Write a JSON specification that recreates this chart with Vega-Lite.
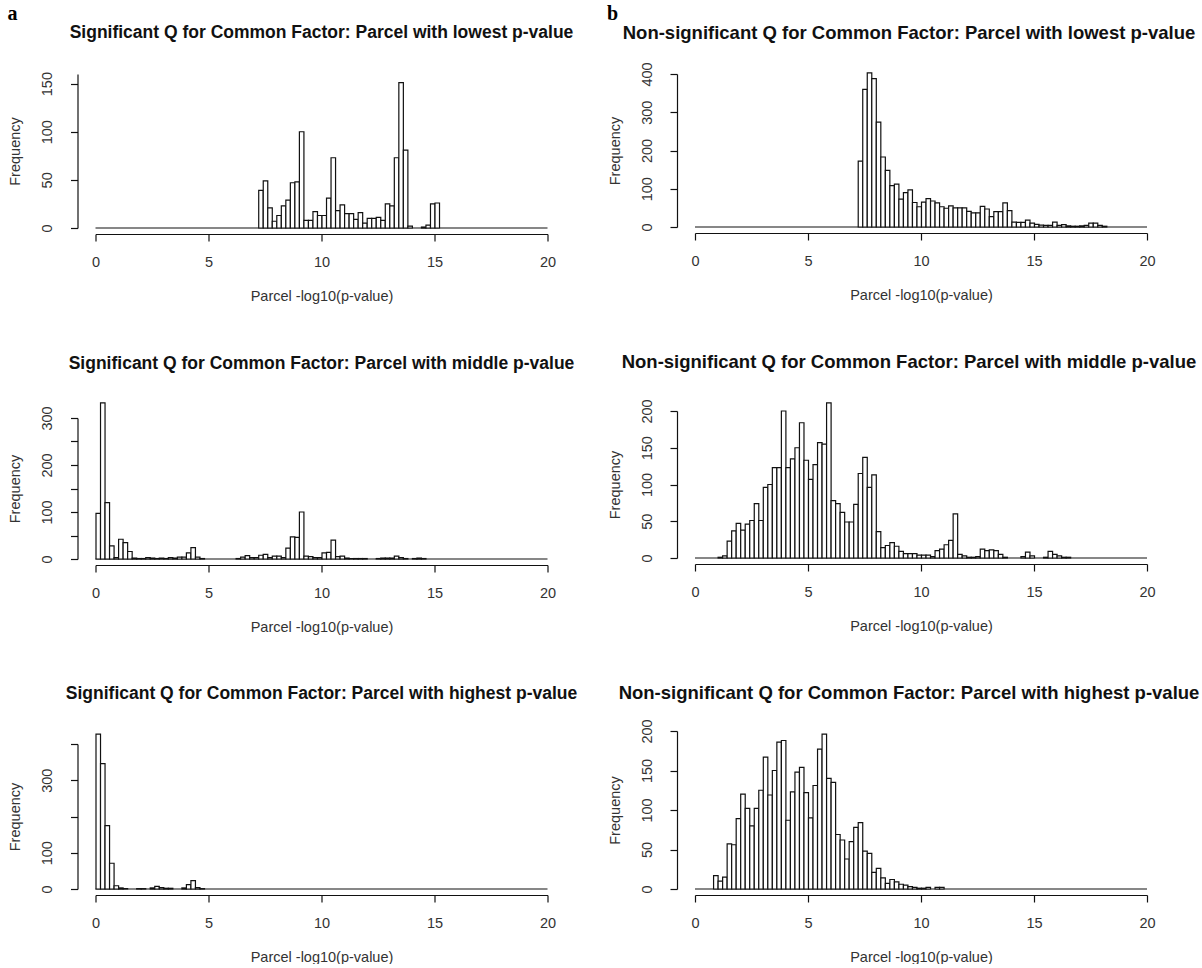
{
"$schema": "https://vega.github.io/schema/vega-lite/v6.json",
"background": "white",
"padding": {"left": 7.5, "top": 4, "right": 0, "bottom": 0},
"datasets": {
"a1": [{"b":7.2,"n":39},{"b":7.4,"n":49},{"b":7.6,"n":21},{"b":7.8,"n":7},{"b":8.0,"n":13},{"b":8.2,"n":23},{"b":8.4,"n":29},{"b":8.6,"n":47},{"b":8.8,"n":48},{"b":9.0,"n":100},{"b":9.2,"n":8},{"b":9.4,"n":8},{"b":9.6,"n":17},{"b":9.8,"n":13},{"b":10.0,"n":13},{"b":10.2,"n":31},{"b":10.4,"n":73},{"b":10.6,"n":18},{"b":10.8,"n":24},{"b":11.0,"n":15},{"b":11.2,"n":15},{"b":11.4,"n":9},{"b":11.6,"n":16},{"b":11.8,"n":5},{"b":12.0,"n":10},{"b":12.2,"n":10},{"b":12.4,"n":11},{"b":12.6,"n":8},{"b":12.8,"n":25},{"b":13.0,"n":23},{"b":13.2,"n":73},{"b":13.4,"n":151},{"b":13.6,"n":81},{"b":13.8,"n":2},{"b":14.4,"n":1},{"b":14.6,"n":3},{"b":14.8,"n":25},{"b":15.0,"n":26}],
"a2": [{"b":0.0,"n":97},{"b":0.2,"n":332},{"b":0.4,"n":120},{"b":0.6,"n":28},{"b":0.8,"n":3},{"b":1.0,"n":42},{"b":1.2,"n":35},{"b":1.4,"n":16},{"b":1.6,"n":2},{"b":1.8,"n":1},{"b":2.0,"n":1},{"b":2.2,"n":3},{"b":2.4,"n":2},{"b":2.6,"n":1},{"b":2.8,"n":2},{"b":3.0,"n":1},{"b":3.2,"n":3},{"b":3.4,"n":2},{"b":3.6,"n":4},{"b":3.8,"n":4},{"b":4.0,"n":13},{"b":4.2,"n":24},{"b":4.4,"n":4},{"b":4.6,"n":1},{"b":6.2,"n":1},{"b":6.4,"n":4},{"b":6.6,"n":7},{"b":6.8,"n":3},{"b":7.0,"n":3},{"b":7.2,"n":8},{"b":7.4,"n":10},{"b":7.6,"n":3},{"b":7.8,"n":6},{"b":8.0,"n":6},{"b":8.2,"n":3},{"b":8.4,"n":23},{"b":8.6,"n":47},{"b":8.8,"n":46},{"b":9.0,"n":100},{"b":9.2,"n":6},{"b":9.4,"n":5},{"b":9.6,"n":3},{"b":9.8,"n":3},{"b":10.0,"n":13},{"b":10.2,"n":14},{"b":10.4,"n":40},{"b":10.6,"n":5},{"b":10.8,"n":6},{"b":11.0,"n":2},{"b":11.2,"n":1},{"b":11.4,"n":1},{"b":11.6,"n":1},{"b":11.8,"n":1},{"b":12.4,"n":1},{"b":12.6,"n":2},{"b":12.8,"n":2},{"b":13.0,"n":2},{"b":13.2,"n":6},{"b":13.4,"n":3},{"b":13.6,"n":1},{"b":14.0,"n":1},{"b":14.2,"n":2},{"b":14.4,"n":1}],
"a3": [{"b":0.0,"n":427},{"b":0.2,"n":346},{"b":0.4,"n":175},{"b":0.6,"n":71},{"b":0.8,"n":9},{"b":1.0,"n":3},{"b":1.2,"n":1},{"b":1.8,"n":1},{"b":2.0,"n":1},{"b":2.4,"n":3},{"b":2.6,"n":7},{"b":2.8,"n":4},{"b":3.0,"n":2},{"b":3.2,"n":2},{"b":3.8,"n":3},{"b":4.0,"n":12},{"b":4.2,"n":23},{"b":4.4,"n":4},{"b":4.6,"n":1}],
"b1": [{"b":7.2,"n":172},{"b":7.4,"n":360},{"b":7.6,"n":403},{"b":7.8,"n":388},{"b":8.0,"n":274},{"b":8.2,"n":183},{"b":8.4,"n":148},{"b":8.6,"n":108},{"b":8.8,"n":112},{"b":9.0,"n":73},{"b":9.2,"n":90},{"b":9.4,"n":97},{"b":9.6,"n":64},{"b":9.8,"n":53},{"b":10.0,"n":65},{"b":10.2,"n":74},{"b":10.4,"n":68},{"b":10.6,"n":63},{"b":10.8,"n":53},{"b":11.0,"n":49},{"b":11.2,"n":55},{"b":11.4,"n":50},{"b":11.6,"n":50},{"b":11.8,"n":50},{"b":12.0,"n":41},{"b":12.2,"n":37},{"b":12.4,"n":37},{"b":12.6,"n":54},{"b":12.8,"n":47},{"b":13.0,"n":27},{"b":13.2,"n":40},{"b":13.4,"n":40},{"b":13.6,"n":63},{"b":13.8,"n":43},{"b":14.0,"n":13},{"b":14.2,"n":12},{"b":14.4,"n":12},{"b":14.6,"n":18},{"b":14.8,"n":10},{"b":15.0,"n":7},{"b":15.2,"n":5},{"b":15.4,"n":4},{"b":15.6,"n":4},{"b":15.8,"n":13},{"b":16.0,"n":4},{"b":16.2,"n":6},{"b":16.4,"n":3},{"b":16.6,"n":2},{"b":16.8,"n":2},{"b":17.0,"n":3},{"b":17.2,"n":4},{"b":17.4,"n":10},{"b":17.6,"n":10},{"b":17.8,"n":4},{"b":18.0,"n":2}],
"b2": [{"b":1.0,"n":1},{"b":1.2,"n":3},{"b":1.4,"n":23},{"b":1.6,"n":37},{"b":1.8,"n":47},{"b":2.0,"n":38},{"b":2.2,"n":46},{"b":2.4,"n":51},{"b":2.6,"n":74},{"b":2.8,"n":51},{"b":3.0,"n":96},{"b":3.2,"n":100},{"b":3.4,"n":123},{"b":3.6,"n":123},{"b":3.8,"n":200},{"b":4.0,"n":123},{"b":4.2,"n":135},{"b":4.4,"n":150},{"b":4.6,"n":184},{"b":4.8,"n":133},{"b":5.0,"n":107},{"b":5.2,"n":127},{"b":5.4,"n":157},{"b":5.6,"n":155},{"b":5.8,"n":211},{"b":6.0,"n":78},{"b":6.2,"n":74},{"b":6.4,"n":62},{"b":6.6,"n":49},{"b":6.8,"n":49},{"b":7.0,"n":73},{"b":7.2,"n":115},{"b":7.4,"n":137},{"b":7.6,"n":96},{"b":7.8,"n":113},{"b":8.0,"n":36},{"b":8.2,"n":14},{"b":8.4,"n":17},{"b":8.6,"n":21},{"b":8.8,"n":16},{"b":9.0,"n":9},{"b":9.2,"n":6},{"b":9.4,"n":6},{"b":9.6,"n":6},{"b":9.8,"n":4},{"b":10.0,"n":4},{"b":10.2,"n":4},{"b":10.4,"n":2},{"b":10.6,"n":10},{"b":10.8,"n":12},{"b":11.0,"n":18},{"b":11.2,"n":24},{"b":11.4,"n":60},{"b":11.6,"n":5},{"b":11.8,"n":3},{"b":12.0,"n":1},{"b":12.2,"n":1},{"b":12.4,"n":2},{"b":12.6,"n":12},{"b":12.8,"n":10},{"b":13.0,"n":11},{"b":13.2,"n":10},{"b":13.4,"n":5},{"b":13.6,"n":1},{"b":14.4,"n":2},{"b":14.6,"n":8},{"b":14.8,"n":3},{"b":15.4,"n":1},{"b":15.6,"n":9},{"b":15.8,"n":5},{"b":16.0,"n":3},{"b":16.2,"n":1},{"b":16.4,"n":1}],
"b3": [{"b":0.8,"n":17},{"b":1.0,"n":10},{"b":1.2,"n":15},{"b":1.4,"n":57},{"b":1.6,"n":56},{"b":1.8,"n":89},{"b":2.0,"n":120},{"b":2.2,"n":102},{"b":2.4,"n":80},{"b":2.6,"n":102},{"b":2.8,"n":125},{"b":3.0,"n":167},{"b":3.2,"n":119},{"b":3.4,"n":150},{"b":3.6,"n":186},{"b":3.8,"n":188},{"b":4.0,"n":87},{"b":4.2,"n":123},{"b":4.4,"n":148},{"b":4.6,"n":154},{"b":4.8,"n":122},{"b":5.0,"n":90},{"b":5.2,"n":131},{"b":5.4,"n":177},{"b":5.6,"n":196},{"b":5.8,"n":140},{"b":6.0,"n":135},{"b":6.2,"n":69},{"b":6.4,"n":62},{"b":6.6,"n":38},{"b":6.8,"n":60},{"b":7.0,"n":78},{"b":7.2,"n":84},{"b":7.4,"n":48},{"b":7.6,"n":45},{"b":7.8,"n":21},{"b":8.0,"n":26},{"b":8.2,"n":14},{"b":8.4,"n":7},{"b":8.6,"n":12},{"b":8.8,"n":9},{"b":9.0,"n":6},{"b":9.2,"n":5},{"b":9.4,"n":3},{"b":9.6,"n":2},{"b":9.8,"n":1},{"b":10.0,"n":1},{"b":10.2,"n":2},{"b":10.6,"n":2},{"b":10.8,"n":2}],
"base": [{"lo":0,"hi":20,"z":0}]
},
"spacing": 29.5,
"hconcat": [
{
"title": {"text": "a", "anchor": "start", "frame": "bounds", "font": "Liberation Serif", "fontSize": 20, "fontWeight": "bold", "color": "#000", "offset": 0},
"spacing": 51,
"vconcat": [
{"width": 452, "height": 154, "title": {"text": "Significant Q for Common Factor: Parcel with lowest p-value", "offset": 30},
 "layer": [
  {"data": {"name": "base"}, "mark": {"type": "rule", "color": "#111", "strokeWidth": 1.2},
   "encoding": {"x": {"field": "lo", "type": "quantitative", "title": "Parcel -log10(p-value)", "scale": {"domain": [0, 20]}, "axis": {"values": [0, 5, 10, 15, 20], "format": "d"}}, "x2": {"field": "hi"},
    "y": {"field": "z", "type": "quantitative", "title": "Frequency", "scale": {"domain": [0, 150]}, "axis": {"values": [0, 50, 100, 150], "format": "d"}}}},
  {"data": {"name": "a1"}, "mark": {"type": "bar", "fill": "white", "stroke": "#111", "strokeWidth": 1.2, "binSpacing": 0},
   "encoding": {"x": {"field": "b", "type": "quantitative", "bin": {"binned": true, "step": 0.2}, "title": "Parcel -log10(p-value)", "axis": {"values": [0, 5, 10, 15, 20], "format": "d"}},
    "y": {"field": "n", "type": "quantitative", "title": "Frequency", "axis": {"values": [0, 50, 100, 150], "format": "d"}}}}
 ]},
{"width": 452, "height": 141, "title": {"text": "Significant Q for Common Factor: Parcel with middle p-value", "offset": 30},
 "layer": [
  {"data": {"name": "base"}, "mark": {"type": "rule", "color": "#111", "strokeWidth": 1.2},
   "encoding": {"x": {"field": "lo", "type": "quantitative", "title": "Parcel -log10(p-value)", "scale": {"domain": [0, 20]}, "axis": {"values": [0, 5, 10, 15, 20], "format": "d"}}, "x2": {"field": "hi"},
    "y": {"field": "z", "type": "quantitative", "title": "Frequency", "scale": {"domain": [0, 300]}, "axis": {"values": [0, 50, 100, 150, 200, 250, 300], "format": "d", "labelExpr": "datum.value % 100 == 0 ? datum.label : ''"}}}},
  {"data": {"name": "a2"}, "mark": {"type": "bar", "fill": "white", "stroke": "#111", "strokeWidth": 1.2, "binSpacing": 0},
   "encoding": {"x": {"field": "b", "type": "quantitative", "bin": {"binned": true, "step": 0.2}, "title": "Parcel -log10(p-value)", "axis": {"values": [0, 5, 10, 15, 20], "format": "d"}},
    "y": {"field": "n", "type": "quantitative", "title": "Frequency", "axis": {"values": [0, 50, 100, 150, 200, 250, 300], "format": "d", "labelExpr": "datum.value % 100 == 0 ? datum.label : ''"}}}}
 ]},
{"width": 452, "height": 145, "title": {"text": "Significant Q for Common Factor: Parcel with highest p-value", "offset": 31},
 "layer": [
  {"data": {"name": "base"}, "mark": {"type": "rule", "color": "#111", "strokeWidth": 1.2},
   "encoding": {"x": {"field": "lo", "type": "quantitative", "title": "Parcel -log10(p-value)", "scale": {"domain": [0, 20]}, "axis": {"values": [0, 5, 10, 15, 20], "format": "d"}}, "x2": {"field": "hi"},
    "y": {"field": "z", "type": "quantitative", "title": "Frequency", "scale": {"domain": [0, 400]}, "axis": {"values": [0, 100, 200, 300, 400], "format": "d", "labelExpr": "datum.value == 200 || datum.value == 400 ? '' : datum.label"}}}},
  {"data": {"name": "a3"}, "mark": {"type": "bar", "fill": "white", "stroke": "#111", "strokeWidth": 1.2, "binSpacing": 0},
   "encoding": {"x": {"field": "b", "type": "quantitative", "bin": {"binned": true, "step": 0.2}, "title": "Parcel -log10(p-value)", "axis": {"values": [0, 5, 10, 15, 20], "format": "d"}},
    "y": {"field": "n", "type": "quantitative", "title": "Frequency", "axis": {"values": [0, 100, 200, 300, 400], "format": "d", "labelExpr": "datum.value == 200 || datum.value == 400 ? '' : datum.label"}}}}
 ]}
]
},
{
"title": {"text": "b", "anchor": "start", "frame": "bounds", "font": "Liberation Serif", "fontSize": 20, "fontWeight": "bold", "color": "#000", "offset": 0},
"spacing": 51,
"vconcat": [
{"width": 452, "height": 153, "title": {"text": "Non-significant Q for Common Factor: Parcel with lowest p-value", "offset": 19, "fontSize": 18.5, "dx": -12},
 "layer": [
  {"data": {"name": "base"}, "mark": {"type": "rule", "color": "#111", "strokeWidth": 1.2},
   "encoding": {"x": {"field": "lo", "type": "quantitative", "title": "Parcel -log10(p-value)", "scale": {"domain": [0, 20]}, "axis": {"values": [0, 5, 10, 15, 20], "format": "d"}}, "x2": {"field": "hi"},
    "y": {"field": "z", "type": "quantitative", "title": "Frequency", "scale": {"domain": [0, 400]}, "axis": {"values": [0, 100, 200, 300, 400], "format": "d"}}}},
  {"data": {"name": "b1"}, "mark": {"type": "bar", "fill": "white", "stroke": "#111", "strokeWidth": 1.2, "binSpacing": 0},
   "encoding": {"x": {"field": "b", "type": "quantitative", "bin": {"binned": true, "step": 0.2}, "title": "Parcel -log10(p-value)", "axis": {"values": [0, 5, 10, 15, 20], "format": "d"}},
    "y": {"field": "n", "type": "quantitative", "title": "Frequency", "axis": {"values": [0, 100, 200, 300, 400], "format": "d"}}}}
 ]},
{"width": 452, "height": 147, "title": {"text": "Non-significant Q for Common Factor: Parcel with middle p-value", "offset": 27, "fontSize": 18.5, "dx": -12},
 "layer": [
  {"data": {"name": "base"}, "mark": {"type": "rule", "color": "#111", "strokeWidth": 1.2},
   "encoding": {"x": {"field": "lo", "type": "quantitative", "title": "Parcel -log10(p-value)", "scale": {"domain": [0, 20]}, "axis": {"values": [0, 5, 10, 15, 20], "format": "d"}}, "x2": {"field": "hi"},
    "y": {"field": "z", "type": "quantitative", "title": "Frequency", "scale": {"domain": [0, 200]}, "axis": {"values": [0, 50, 100, 150, 200], "format": "d"}}}},
  {"data": {"name": "b2"}, "mark": {"type": "bar", "fill": "white", "stroke": "#111", "strokeWidth": 1.2, "binSpacing": 0},
   "encoding": {"x": {"field": "b", "type": "quantitative", "bin": {"binned": true, "step": 0.2}, "title": "Parcel -log10(p-value)", "axis": {"values": [0, 5, 10, 15, 20], "format": "d"}},
    "y": {"field": "n", "type": "quantitative", "title": "Frequency", "axis": {"values": [0, 50, 100, 150, 200], "format": "d"}}}}
 ]},
{"width": 452, "height": 158, "title": {"text": "Non-significant Q for Common Factor: Parcel with highest p-value", "offset": 16, "fontSize": 18.5, "dx": -12},
 "layer": [
  {"data": {"name": "base"}, "mark": {"type": "rule", "color": "#111", "strokeWidth": 1.2},
   "encoding": {"x": {"field": "lo", "type": "quantitative", "title": "Parcel -log10(p-value)", "scale": {"domain": [0, 20]}, "axis": {"values": [0, 5, 10, 15, 20], "format": "d"}}, "x2": {"field": "hi"},
    "y": {"field": "z", "type": "quantitative", "title": "Frequency", "scale": {"domain": [0, 200]}, "axis": {"values": [0, 50, 100, 150, 200], "format": "d"}}}},
  {"data": {"name": "b3"}, "mark": {"type": "bar", "fill": "white", "stroke": "#111", "strokeWidth": 1.2, "binSpacing": 0},
   "encoding": {"x": {"field": "b", "type": "quantitative", "bin": {"binned": true, "step": 0.2}, "title": "Parcel -log10(p-value)", "axis": {"values": [0, 5, 10, 15, 20], "format": "d"}},
    "y": {"field": "n", "type": "quantitative", "title": "Frequency", "axis": {"values": [0, 50, 100, 150, 200], "format": "d"}}}}
 ]}
]
}
],
"config": {
 "view": {"stroke": null},
 "axis": {"grid": false, "domainColor": "#111", "tickColor": "#111", "domainWidth": 1.2, "tickWidth": 1.2, "tickSize": 7, "labelColor": "#333", "titleColor": "#333", "labelFont": "Liberation Sans", "titleFont": "Liberation Sans", "labelFontSize": 14.5, "titleFontSize": 14.5, "titleFontWeight": "normal", "labelOverlap": false, "labelFlush": false},
 "axisX": {"offset": 6, "labelPadding": 14, "titlePadding": 21},
 "axisY": {"offset": 18, "labelAngle": -90, "labelAlign": "center", "labelBaseline": "bottom", "labelPadding": 16, "titlePadding": 17},
 "title": {"font": "Liberation Sans", "fontSize": 17.5, "fontWeight": "bold", "color": "#111", "anchor": "middle", "frame": "group"}
}
}
